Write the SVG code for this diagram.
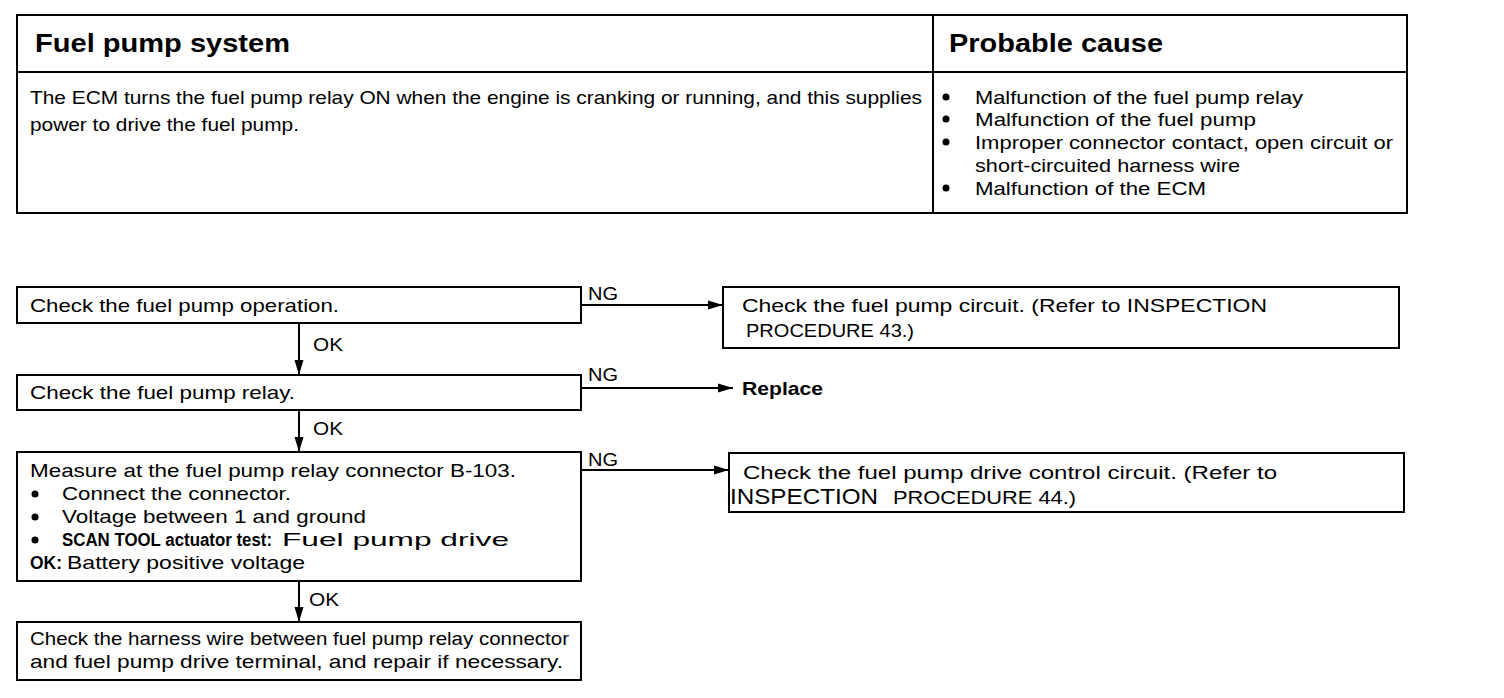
<svg xmlns="http://www.w3.org/2000/svg" width="1504" height="698" viewBox="0 0 1504 698">
<style>
.bg{fill:#fff}
.box{fill:#fff;stroke:#000;stroke-width:2}
.ln{stroke:#000;stroke-width:2;fill:none}
.t{font-family:"Liberation Sans",Arial,sans-serif;font-size:19px;fill:#000}
.b{font-weight:bold}
.h{font-family:"Liberation Sans",Arial,sans-serif;font-size:25px;font-weight:bold;fill:#000}
.lbl{font-family:"Liberation Sans",Arial,sans-serif;font-size:19px;fill:#000}
</style>
<defs>
<marker id="ah" markerWidth="16" markerHeight="10" refX="15" refY="5" orient="auto" markerUnits="userSpaceOnUse">
<path d="M0,0.5 L15,5 L0,9.5 Z" fill="#000"/>
</marker>
</defs>
<rect class="bg" x="0" y="0" width="1504" height="698"/>

<g id="table">
<rect class="box" x="17" y="15" width="1390" height="198"/>
<line class="ln" x1="17" y1="72" x2="1407" y2="72"/>
<line class="ln" x1="933" y1="15" x2="933" y2="213"/>
<text class="h" x="35" y="52" textLength="255" lengthAdjust="spacingAndGlyphs">Fuel pump system</text>
<text class="h" x="949" y="52" textLength="214" lengthAdjust="spacingAndGlyphs">Probable cause</text>
<text class="t" x="30" y="104" textLength="892" lengthAdjust="spacingAndGlyphs">The ECM turns the fuel pump relay ON when the engine is cranking or running, and this supplies</text>
<text class="t" x="30" y="131" textLength="269" lengthAdjust="spacingAndGlyphs">power to drive the fuel pump.</text>
<circle cx="946" cy="97" r="3.5"/>
<circle cx="946" cy="119" r="3.5"/>
<circle cx="946" cy="142" r="3.5"/>
<circle cx="946" cy="188" r="3.5"/>
<text class="t" x="975" y="104" textLength="328" lengthAdjust="spacingAndGlyphs">Malfunction of the fuel pump relay</text>
<text class="t" x="975" y="126" textLength="281" lengthAdjust="spacingAndGlyphs">Malfunction of the fuel pump</text>
<text class="t" x="975" y="149" textLength="418" lengthAdjust="spacingAndGlyphs">Improper connector contact, open circuit or</text>
<text class="t" x="975" y="172" textLength="265" lengthAdjust="spacingAndGlyphs">short-circuited harness wire</text>
<text class="t" x="975" y="195" textLength="231" lengthAdjust="spacingAndGlyphs">Malfunction of the ECM</text>
</g>

<g id="connectors">
<line class="ln" x1="581" y1="305" x2="723" y2="305" marker-end="url(#ah)"/>
<line class="ln" x1="581" y1="388" x2="733" y2="388" marker-end="url(#ah)"/>
<line class="ln" x1="581" y1="470" x2="729" y2="470" marker-end="url(#ah)"/>
<line class="ln" x1="299" y1="323" x2="299" y2="375" marker-end="url(#ah)"/>
<line class="ln" x1="299" y1="410" x2="299" y2="452" marker-end="url(#ah)"/>
<line class="ln" x1="299" y1="581" x2="299" y2="622" marker-end="url(#ah)"/>
<text class="lbl" x="588" y="300" textLength="30" lengthAdjust="spacingAndGlyphs">NG</text>
<text class="lbl" x="588" y="381" textLength="30" lengthAdjust="spacingAndGlyphs">NG</text>
<text class="lbl" x="588" y="466" textLength="30" lengthAdjust="spacingAndGlyphs">NG</text>
<text class="lbl" x="313" y="351" textLength="30" lengthAdjust="spacingAndGlyphs">OK</text>
<text class="lbl" x="313" y="435" textLength="30" lengthAdjust="spacingAndGlyphs">OK</text>
<text class="lbl" x="309" y="606" textLength="30" lengthAdjust="spacingAndGlyphs">OK</text>
</g>

<g id="n1">
<rect class="box" x="17" y="287" width="564" height="36"/>
<text class="t" x="30" y="312" textLength="309" lengthAdjust="spacingAndGlyphs">Check the fuel pump operation.</text>
</g>

<g id="n2">
<rect class="box" x="17" y="375" width="564" height="35"/>
<text class="t" x="30" y="399" textLength="265" lengthAdjust="spacingAndGlyphs">Check the fuel pump relay.</text>
</g>

<g id="n3">
<rect class="box" x="17" y="452" width="564" height="129"/>
<text class="t" x="30" y="477" textLength="486" lengthAdjust="spacingAndGlyphs">Measure at the fuel pump relay connector B-103.</text>
<circle cx="35" cy="494" r="3.5"/>
<text class="t" x="62" y="500" textLength="229" lengthAdjust="spacingAndGlyphs">Connect the connector.</text>
<circle cx="35" cy="517" r="3.5"/>
<text class="t" x="62" y="523" textLength="304" lengthAdjust="spacingAndGlyphs">Voltage between 1 and ground</text>
<circle cx="35" cy="540" r="3.5"/>
<text class="t b" x="62" y="546" style="font-size:17.5px" textLength="210" lengthAdjust="spacingAndGlyphs">SCAN TOOL actuator test:</text>
<text class="t" x="282" y="546" textLength="227" lengthAdjust="spacingAndGlyphs">Fuel pump drive</text>
<text class="t b" x="30" y="569" textLength="32" lengthAdjust="spacingAndGlyphs">OK:</text>
<text class="t" x="67" y="569" textLength="238" lengthAdjust="spacingAndGlyphs">Battery positive voltage</text>
</g>

<g id="n4">
<rect class="box" x="17" y="622" width="564" height="58"/>
<text class="t" x="30" y="645" textLength="539" lengthAdjust="spacingAndGlyphs">Check the harness wire between fuel pump relay connector</text>
<text class="t" x="30" y="668" textLength="533" lengthAdjust="spacingAndGlyphs">and fuel pump drive terminal, and repair if necessary.</text>
</g>

<g id="n5">
<rect class="box" x="723" y="287" width="676" height="61"/>
<text class="t" x="742" y="312" textLength="525" lengthAdjust="spacingAndGlyphs">Check the fuel pump circuit. (Refer to INSPECTION</text>
<text class="t" x="746" y="337" textLength="168" lengthAdjust="spacingAndGlyphs">PROCEDURE 43.)</text>
</g>

<g id="n6">
<text class="t b" x="742" y="395" textLength="81" lengthAdjust="spacingAndGlyphs">Replace</text>
</g>

<g id="n7">
<rect class="box" x="729" y="453" width="675" height="59"/>
<text class="t" x="743" y="479" textLength="534" lengthAdjust="spacingAndGlyphs">Check the fuel pump drive control circuit. (Refer to</text>
<text class="t" x="730" y="504" style="font-size:22px" textLength="148" lengthAdjust="spacingAndGlyphs">INSPECTION</text>
<text class="t" x="893" y="504" textLength="183" lengthAdjust="spacingAndGlyphs">PROCEDURE 44.)</text>
</g>
</svg>
